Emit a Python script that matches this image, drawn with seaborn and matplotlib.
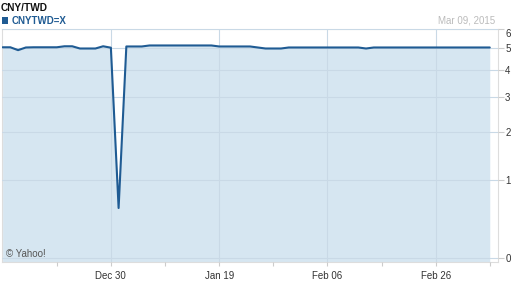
import numpy as np
import pandas as pd
import matplotlib
matplotlib.use("Agg")
import matplotlib.pyplot as plt
from matplotlib.patches import Rectangle
import seaborn as sns

# ---- data ----
dates = pd.bdate_range("2014-12-10", "2015-03-09")
values = [5.03, 5.03, 4.89, 5.02, 5.03, 5.03, 5.03, 5.03, 5.08, 5.08,
          4.97, 4.97, 4.97, 5.08, 5.01, 0.565, 5.07, 5.07, 5.07,
          5.12, 5.12, 5.12, 5.12, 5.12, 5.12, 5.12, 5.12, 5.12,
          5.07, 5.07, 5.07, 5.07, 5.07,
          5.02,
          4.97, 4.97, 4.97,
          5.02, 5.02, 5.02, 5.02, 5.02, 5.02, 5.02, 5.02, 5.02, 5.02,
          4.97,
          5.02, 5.02, 5.02, 5.02, 5.02, 5.02, 5.02, 5.02, 5.02, 5.02,
          5.02, 5.02, 5.02, 5.02, 5.02, 5.02]
major_dates = ["2014-12-30", "2015-01-19", "2015-02-06", "2015-02-26"]
major_labels = ["Dec 30", "Jan 19", "Feb 06", "Feb 26"]
minor_dates = ["2014-12-19", "2015-01-08", "2015-01-28", "2015-02-17", "2015-03-09"]
y_ticks = [0, 1, 2, 3, 4, 5, 6]
title = "CNY/TWD"
series_name = "CNYTWD=X"
date_text = "Mar 09, 2015"
credit = "\u00a9 Yahoo!"

df = pd.DataFrame({"pos": np.arange(len(dates)), "date": dates, "value": values})
pos_of = {d: i for i, d in enumerate(dates.strftime("%Y-%m-%d"))}

sns.set_style("white")
plt.rcParams["font.family"] = ["Liberation Sans", "DejaVu Sans"]

LINE = "#1F5B93"
FILL = "#D6E6F1"
GRID = "#C9D9E6"
FRAME = "#DDDDDD"

W, H = 512, 288
fig = plt.figure(figsize=(W / 100, H / 100), dpi=100)
ax = fig.add_axes([2 / W, 1 - 262 / H, (497.5 - 2) / W, (262 - 29) / H])

c = 1.15
ax.set_yscale("function", functions=(lambda v: np.log(np.maximum(v + c, 1e-6)),
                                     lambda u: np.exp(u) - c))
ybot = -0.035
ax.fill_between(df["pos"], df["value"], ybot, color=FILL, lw=0, zorder=1)
sns.lineplot(data=df, x="pos", y="value", ax=ax, color=LINE, lw=1.5, zorder=3)

ax.set_ylim(ybot, 6)
ax.set_xlim(-0.08, 64.0)

ax.set_xticks([pos_of[d] for d in major_dates])
ax.set_xticklabels(major_labels)
ax.set_xticks([pos_of[d] for d in minor_dates], minor=True)
ax.set_yticks(y_ticks)
ax.set_yticklabels([str(t) for t in y_ticks])
ax.yaxis.tick_right()
ax.set_xlabel("")
ax.set_ylabel("")

ax.grid(True, which="major", color=GRID, lw=0.8, zorder=2)
ax.set_axisbelow(False)
for gl in ax.get_xgridlines() + ax.get_ygridlines():
    gl.set_zorder(2)

for s in ax.spines.values():
    s.set_color(FRAME)
    s.set_linewidth(0.8)

ax.tick_params(axis="x", which="both", length=3, color="#CCCCCC", width=0.8,
               labelsize=7, labelcolor="#333333", pad=3.5, bottom=True)
ax.tick_params(axis="y", which="major", length=4, color="#CCCCCC", width=0.8,
               labelsize=7, labelcolor="#333333", pad=1.5, right=True, left=False)
ax.yaxis.get_ticklabels()[-1].set_va("top")

fig.text(1 / W, 1 - 10.7 / H, title, fontsize=7.3, fontweight="bold",
         color="#111111", va="baseline", ha="left")
fig.add_artist(Rectangle((2 / W, 1 - 24 / H), 6 / W, 7 / H, transform=fig.transFigure,
                         color=LINE, lw=0))
fig.text(12 / W, 1 - 24 / H, series_name, fontsize=7, fontweight="bold",
         color=LINE, va="baseline", ha="left")
fig.text(495 / W, 1 - 23.3 / H, date_text, fontsize=7, color="#BBBBBB",
         va="baseline", ha="right")
fig.text(6 / W, 1 - 256.7 / H, credit, fontsize=7, color="#555555",
         va="baseline", ha="left")

fig.savefig("out.png", dpi=100)
